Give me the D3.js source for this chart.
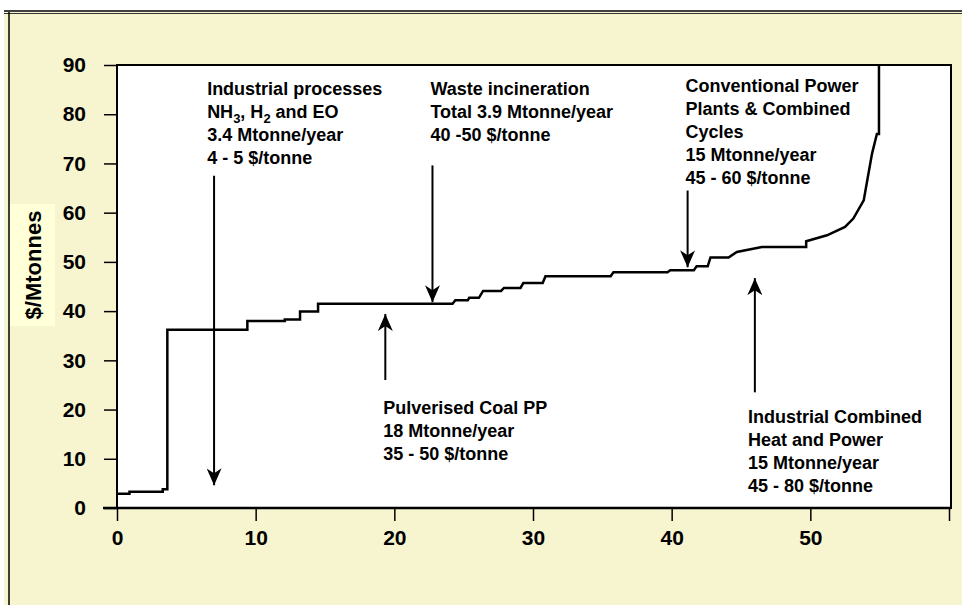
<!DOCTYPE html>
<meta charset="utf-8">
<style>

body {
  margin: 0;
  background: #fff;
}

svg text {
  font-family: "Liberation Sans", Arial, Helvetica, sans-serif;
  font-weight: bold;
  fill: #000;
}

.axis path {
  display: none;
}

.axis line {
  stroke: #000;
  stroke-width: 1.5px;
}

.axis text {
  font-size: 21px;
}

.note {
  font-size: 18px;
}

</style>
<body>
<script src="https://cdn.jsdelivr.net/npm/d3@7"></script>
<script>

// cost curve: cumulative capture (Mtonne/year) vs cost ($/tonne)
var curveX = [0, 0.9, 0.9, 3.3, 3.3, 3.63, 3.63, 9.4, 9.4, 12.1, 12.1, 13.2, 13.2, 14.5, 14.5,
              24.2, 24.4, 25.3, 25.4, 26.1, 26.4, 27.7, 27.9, 29.1, 29.3, 30.7, 30.9, 35.6, 35.8,
              39.7, 39.9, 41.6, 41.8, 42.6, 42.8, 44.1, 44.7, 46.5, 49.7, 49.7, 51.2, 52.5, 53.1,
              53.85, 54.1, 54.45, 54.8, 54.95, 54.95];
var curveY = [2.9, 2.9, 3.3, 3.3, 3.8, 3.8, 36.2, 36.2, 38.0, 38.0, 38.3, 38.3, 39.9, 39.9, 41.5,
              41.5, 42.2, 42.2, 42.7, 42.7, 44.1, 44.1, 44.7, 44.7, 45.7, 45.7, 47.1, 47.1, 47.9,
              47.9, 48.3, 48.3, 49.1, 49.1, 50.9, 50.9, 52.0, 53.0, 53.0, 54.2, 55.4, 57.1, 58.8,
              62.5, 66.5, 72.0, 76.0, 76.0, 90];

var xTicks = [0, 10, 20, 30, 40, 50, 60];
var xTickLabels = ["0", "10", "20", "30", "40", "50", ""];
var yTicks = [0, 10, 20, 30, 40, 50, 60, 70, 80, 90];
var yTitle = "$/Mtonnes";

// annotation texts, anchored in data units (x = Mtonne, y = $/tonne)
var noteLines = [
  ["Industrial processes", "NH|3|, H|2| and EO", "3.4 Mtonne/year", "4 - 5 $/tonne"],
  ["Waste incineration", "Total 3.9 Mtonne/year", "40 -50 $/tonne"],
  ["Conventional Power", "Plants & Combined", "Cycles", "15 Mtonne/year", "45 - 60 $/tonne"],
  ["Pulverised Coal PP", "18 Mtonne/year", "35 - 50 $/tonne"],
  ["Industrial Combined", "Heat and Power", "15 Mtonne/year", "45 - 80 $/tonne"]
];
var noteX = [6.5, 22.6, 41.0, 19.2, 45.5];
var noteY = [83.9, 83.9, 84.5, 19.0, 17.3];

// arrows: x, from y, to y (tip)
var arrowX = [7.0, 22.75, 41.15, 19.35, 46.0];
var arrowFrom = [67.5, 69.6, 64.5, 26.0, 23.5];
var arrowTo = [4.6, 41.8, 48.9, 39.4, 46.7];

var W = 962,
    H = 605,
    plotLeft = 117,
    plotRight = 949,
    plotTop = 65,
    plotBottom = 508;

var svg = d3.select("body").append("svg")
    .attr("width", W)
    .attr("height", H);

// page background with frame
svg.append("rect")
    .attr("x", 4).attr("y", 12)
    .attr("width", W - 4).attr("height", H - 12)
    .attr("fill", "#f7f5cf");
svg.append("line").attr("x1", 4).attr("x2", W).attr("y1", 11).attr("y2", 11)
    .attr("stroke", "#000").attr("stroke-width", 1.5);
svg.append("line").attr("x1", 4).attr("x2", W).attr("y1", 13.5).attr("y2", 13.5)
    .attr("stroke", "#333").attr("stroke-width", 1);
svg.append("line").attr("x1", 9).attr("x2", 9).attr("y1", 12).attr("y2", H)
    .attr("stroke", "#000").attr("stroke-width", 1.5);

var x = d3.scaleLinear().domain([0, 60]).range([plotLeft, plotRight]);
var y = d3.scaleLinear().domain([0, 90]).range([plotBottom, plotTop]);

// plot area
svg.append("rect")
    .attr("x", x(0)).attr("y", y(90))
    .attr("width", 951 - x(0)).attr("height", y(0) - y(90))
    .attr("fill", "#fff")
    .attr("stroke", "#000")
    .attr("stroke-width", 2);

// axes
svg.append("g")
    .attr("class", "axis")
    .attr("transform", "translate(" + x(0) + ",0)")
    .call(d3.axisLeft(y).tickValues(yTicks).tickSize(13).tickPadding(18));

svg.append("g")
    .attr("class", "axis")
    .attr("transform", "translate(0," + y(0) + ")")
    .call(d3.axisBottom(x).tickValues(xTicks).tickSize(13).tickPadding(9)
      .tickFormat(function(d, i) { return xTickLabels[i]; }));

svg.append("line")
    .attr("x1", x(0) - 14).attr("x2", 951)
    .attr("y1", y(0)).attr("y2", y(0))
    .attr("stroke", "#000").attr("stroke-width", 2.5);

// y title with its light box
svg.append("rect")
    .attr("x", 10).attr("y", 204)
    .attr("width", 45).attr("height", 122)
    .attr("fill", "#ffffd8");
svg.append("text")
    .attr("transform", "translate(41,265) rotate(-90)")
    .attr("text-anchor", "middle")
    .style("font-size", "22px")
    .text(yTitle);

// curve
var pts = curveX.map(function(d, i) { return [d, curveY[i]]; });
svg.append("path")
    .datum(pts)
    .attr("fill", "none")
    .attr("stroke", "#000")
    .attr("stroke-width", 2.5)
    .attr("stroke-linejoin", "miter")
    .attr("d", d3.line().x(function(d) { return x(d[0]); }).y(function(d) { return y(d[1]); }));

// arrows
svg.append("defs").append("marker")
    .attr("id", "head")
    .attr("viewBox", "0 0 17 15")
    .attr("refX", 17).attr("refY", 7.5)
    .attr("markerWidth", 17).attr("markerHeight", 15)
    .attr("markerUnits", "userSpaceOnUse")
    .attr("orient", "auto")
  .append("path")
    .attr("d", "M0,0 L17,7.5 L0,15 L5,7.5 Z")
    .attr("fill", "#000");

arrowX.forEach(function(ax, i) {
  svg.append("line")
      .attr("x1", x(ax)).attr("x2", x(ax))
      .attr("y1", y(arrowFrom[i])).attr("y2", y(arrowTo[i]))
      .attr("stroke", "#000")
      .attr("stroke-width", 2)
      .attr("marker-end", "url(#head)");
});

// annotations
noteLines.forEach(function(lines, i) {
  var t = svg.append("text")
      .attr("class", "note")
      .attr("x", x(noteX[i]))
      .attr("y", y(noteY[i]));
  lines.forEach(function(line, j) {
    var parts = line.split("|");
    parts.forEach(function(p, k) {
      var ts = t.append("tspan").text(p);
      if (k == 0) ts.attr("x", x(noteX[i])).attr("y", y(noteY[i]) + j * 23);
      if (k % 2 == 1) ts.attr("dy", 5).style("font-size", "13px");
      else if (k > 0) ts.attr("dy", -5);
    });
  });
});

</script>
